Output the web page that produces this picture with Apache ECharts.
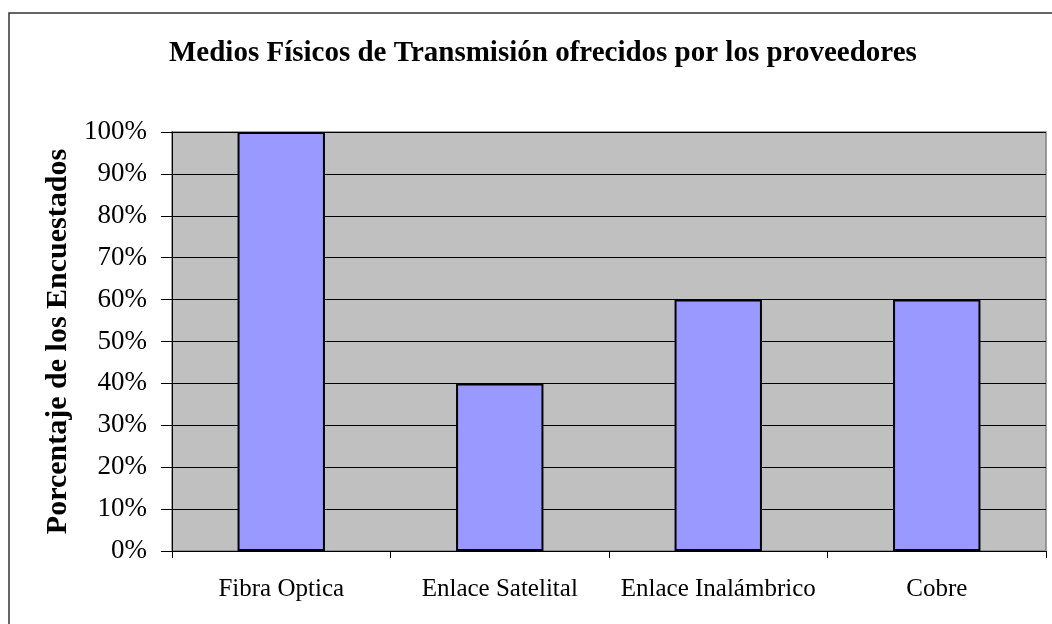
<!DOCTYPE html>
<html>
<head>
<meta charset="utf-8">
<script src="https://cdn.jsdelivr.net/npm/echarts@6/dist/echarts.min.js"></script>
<style>
  html, body { margin: 0; padding: 0; background: #fff; }
  #main { width: 1052px; height: 624px; }
</style>
</head>
<body>
<div id="main"></div>
<script>
// datos del gráfico
const categories = ['Fibra Optica', 'Enlace Satelital', 'Enlace Inalámbrico', 'Cobre']
const values = [100, 40, 60, 60]

const serif = "'Times New Roman', 'Liberation Serif', serif"

const myChart = echarts.init(document.getElementById('main'))

const option = {
  backgroundColor: '#ffffff',
  animation: false,
  title: {
    text: 'Medios Físicos de Transmisión ofrecidos por los proveedores',
    left: 164,
    top: 34,
    textStyle: {
      fontFamily: serif,
      fontWeight: 'bold',
      fontSize: 29,
      color: '#000'
    }
  },
  graphic: [
    {
      type: 'rect',
      shape: { x: 9, y: 13, width: 1200, height: 800 },
      style: { fill: 'none', stroke: '#333', lineWidth: 1.5 },
      silent: true
    }
  ],
  grid: {
    left: 172,
    right: 6,
    top: 132,
    bottom: 73,
    show: true,
    backgroundColor: '#c0c0c0',
    borderColor: '#808080',
    borderWidth: 1.5
  },
  xAxis: {
    type: 'category',
    data: categories,
    axisLine: { show: true, lineStyle: { color: '#000', width: 1 } },
    axisTick: { show: true, interval: 0, length: 7, lineStyle: { color: '#000' } },
    axisLabel: {
      interval: 0,
      margin: 26,
      fontFamily: serif,
      fontSize: 25,
      color: '#000'
    }
  },
  yAxis: {
    type: 'value',
    min: 0,
    max: 100,
    interval: 10,
    name: 'Porcentaje de los Encuestados',
    nameLocation: 'middle',
    nameGap: 95,
    nameTextStyle: {
      fontFamily: serif,
      fontWeight: 'bold',
      fontSize: 30,
      color: '#000'
    },
    axisLine: { show: true, lineStyle: { color: '#000', width: 1 } },
    axisTick: { show: true, length: 11, lineStyle: { color: '#000' } },
    axisLabel: {
      formatter: '{value}%',
      margin: 25,
      fontFamily: serif,
      fontSize: 27,
      color: '#000'
    },
    splitLine: { show: true, lineStyle: { color: '#000', width: 1 } }
  },
  series: [
    {
      type: 'bar',
      data: values,
      barWidth: '40%',
      itemStyle: {
        color: '#9999ff',
        borderColor: '#000',
        borderWidth: 2
      }
    }
  ]
}

myChart.setOption(option)
</script>
</body>
</html>
